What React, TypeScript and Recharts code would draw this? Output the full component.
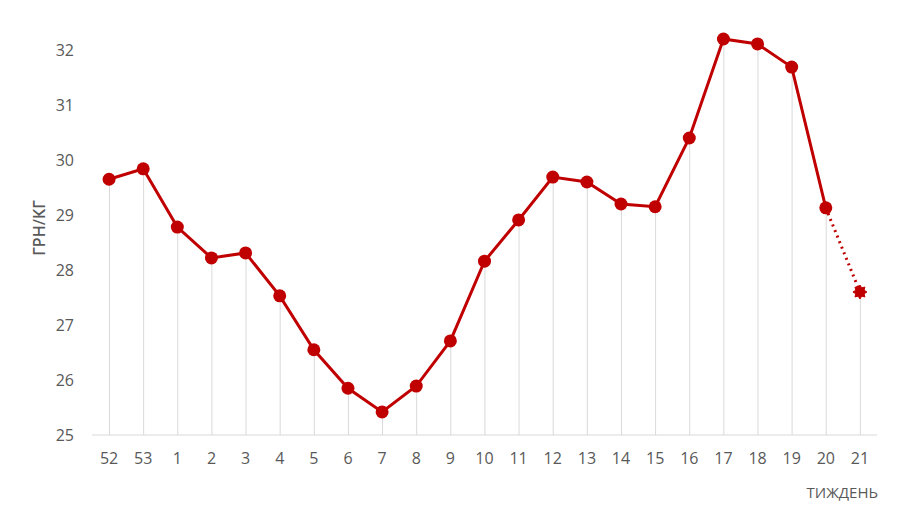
import React from 'react';
import { ComposedChart, Line, Bar, XAxis, YAxis } from 'recharts';

const weeks = ['52', '53', '1', '2', '3', '4', '5', '6', '7', '8', '9', '10', '11', '12', '13', '14', '15', '16', '17', '18', '19', '20', '21'];
const prices = [29.65, 29.84, 28.78, 28.22, 28.31, 27.53, 26.55, 25.85, 25.42, 25.89, 26.71, 28.16, 28.91, 29.69, 29.6, 29.2, 29.15, 30.4, 32.2, 32.11, 31.69, 29.13, null];
const forecast = [null, null, null, null, null, null, null, null, null, null, null, null, null, null, null, null, null, null, null, null, null, 29.13, 27.6];
const yTicks = [25, 26, 27, 28, 29, 30, 31, 32];

const RED = '#c00000';
const GREY_TEXT = '#595959';
const FONT = '"Open Sans", "Noto Sans", sans-serif';

const data = weeks.map((w, i) => ({
  week: w,
  price: prices[i],
  forecast: forecast[i],
  drop: prices[i] ?? forecast[i],
}));

interface DotProps {
  cx?: number;
  cy?: number;
  index?: number;
}

// star marker for the forecast point only
const StarDot = ({ cx, cy, index }: DotProps) => {
  if (cx == null || cy == null || index !== weeks.length - 1) return null;
  const pts: string[] = [];
  for (let k = 0; k < 16; k++) {
    const r = k % 2 === 0 ? 7 : 4.5;
    const a = (Math.PI * k) / 8;
    pts.push(`${cx + r * Math.cos(a)},${cy + r * Math.sin(a)}`);
  }
  return <polygon points={pts.join(' ')} fill={RED} stroke={RED} strokeWidth={1} />;
};

const tickStyle = { fontSize: 16, fill: GREY_TEXT, fontFamily: FONT };

export default function App() {
  return (
    <div style={{ position: 'absolute', left: 0, top: 0, width: 900, height: 525, background: '#fff' }}>
      <ComposedChart width={900} height={525} data={data} margin={{ top: 22.5, right: 23, bottom: 60, left: 0 }}>
        <XAxis
          dataKey="week"
          tick={tickStyle}
          tickLine={false}
          axisLine={{ stroke: '#d9d9d9' }}
          tickSize={0}
          tickMargin={18}
          interval={0}
        />
        <YAxis
          domain={[25, 32.5]}
          ticks={yTicks}
          allowDataOverflow
          tick={tickStyle}
          tickLine={false}
          axisLine={false}
          width={92}
          tickSize={0}
          tickMargin={18}
        />
        <Bar dataKey="drop" barSize={1} fill="#d9d9d9" isAnimationActive={false} />
        <Line
          dataKey="forecast"
          stroke={RED}
          strokeWidth={3}
          strokeDasharray="2 4"
          dot={<StarDot />}
          activeDot={false}
          isAnimationActive={false}
        />
        <Line
          dataKey="price"
          stroke={RED}
          strokeWidth={3}
          dot={{ r: 6.5, fill: RED, stroke: RED, strokeWidth: 0 }}
          activeDot={false}
          isAnimationActive={false}
        />
      </ComposedChart>
      <div
        style={{
          position: 'absolute',
          left: 39,
          top: 228,
          transform: 'translate(-50%, -50%) rotate(-90deg)',
          fontFamily: FONT,
          fontSize: 16,
          fontWeight: 600,
          color: GREY_TEXT,
          whiteSpace: 'nowrap',
        }}
      >
        ГРН/КГ
      </div>
      <div
        style={{
          position: 'absolute',
          right: 22,
          top: 482,
          fontFamily: FONT,
          fontSize: 15,
          color: GREY_TEXT,
          whiteSpace: 'nowrap',
        }}
      >
        ТИЖДЕНЬ
      </div>
    </div>
  );
}
